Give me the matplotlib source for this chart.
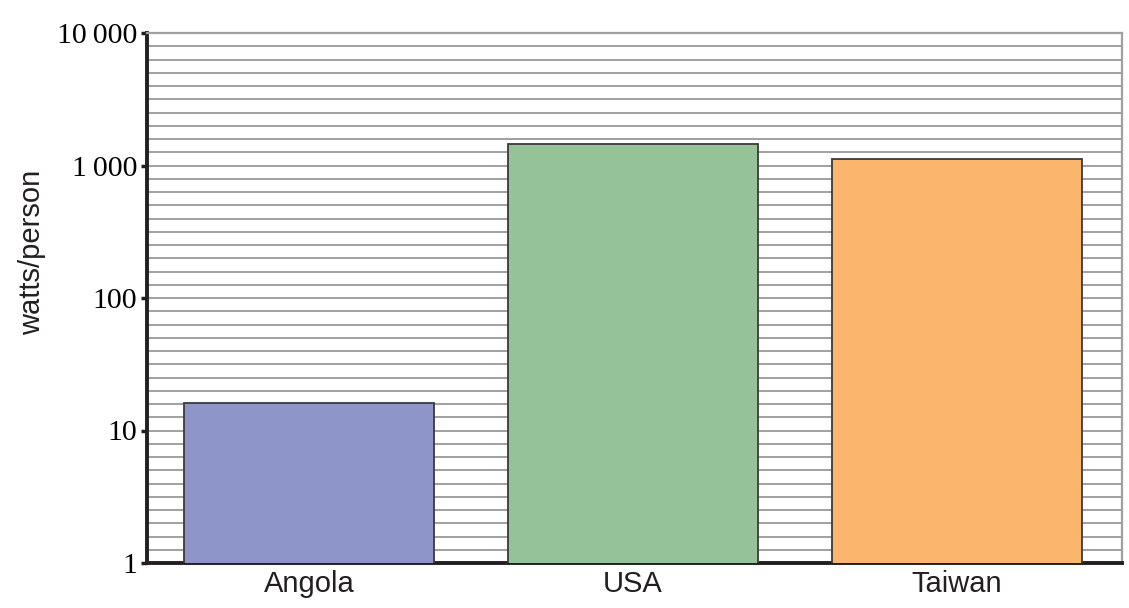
import matplotlib
matplotlib.use("Agg")
import matplotlib.pyplot as plt
from matplotlib.ticker import NullFormatter
import numpy as np

countries = ["Angola", "USA", "Taiwan"]
watts = [16, 1460, 1110]
colors = ["#8e95c8", "#95c397", "#fbb56c"]
ytick_vals = [1, 10, 100, 1000, 10000]
ytick_text = ["1", "10", "100", "1\u2009000", "10\u2009000"]

fig = plt.figure(figsize=(11.29, 6.08), dpi=100)
ax = fig.add_axes([147/1129, 1 - 563/608, (1122-147)/1129, (563-33)/608])

ax.set_yscale("log")
ax.set_ylim(1, 10000)
ax.set_xlim(-0.5, 2.51)

# ten evenly spaced lines per decade
grid_pos = 10 ** (np.arange(0, 41) / 10)
ax.set_yticks(grid_pos, minor=True)
ax.yaxis.set_minor_formatter(NullFormatter())
ax.set_yticks(ytick_vals)
ax.set_yticklabels(ytick_text, family=["Liberation Serif", "DejaVu Serif"], fontsize=21.5)
ax.yaxis.grid(True, which="both", color="#a0a0a0", linewidth=1.4)
ax.set_axisbelow(True)
ax.tick_params(axis="y", which="minor", length=0)
ax.tick_params(axis="y", which="major", length=4, width=2.5, color="#231f20", pad=3)

x = np.arange(len(countries))
ax.bar(x, watts, width=0.77, color=colors, edgecolor="#3a3a3a", linewidth=1.3, zorder=3)

ax.set_xticks(x)
ax.set_xticklabels(countries, family="Liberation Sans", fontsize=21, color="#231f20")
ax.tick_params(axis="x", length=0, pad=5)

ax.set_ylabel("watts/person", family="Liberation Sans", fontsize=21, color="#231f20")
ax.yaxis.set_label_coords(-0.104, 0.587)

for side in ["left", "bottom"]:
    ax.spines[side].set_linewidth(2.8)
    ax.spines[side].set_color("#231f20")
for side in ["top", "right"]:
    ax.spines[side].set_linewidth(1.6)
    ax.spines[side].set_color("#a0a0a0")

fig.savefig("out.png", dpi=100)
